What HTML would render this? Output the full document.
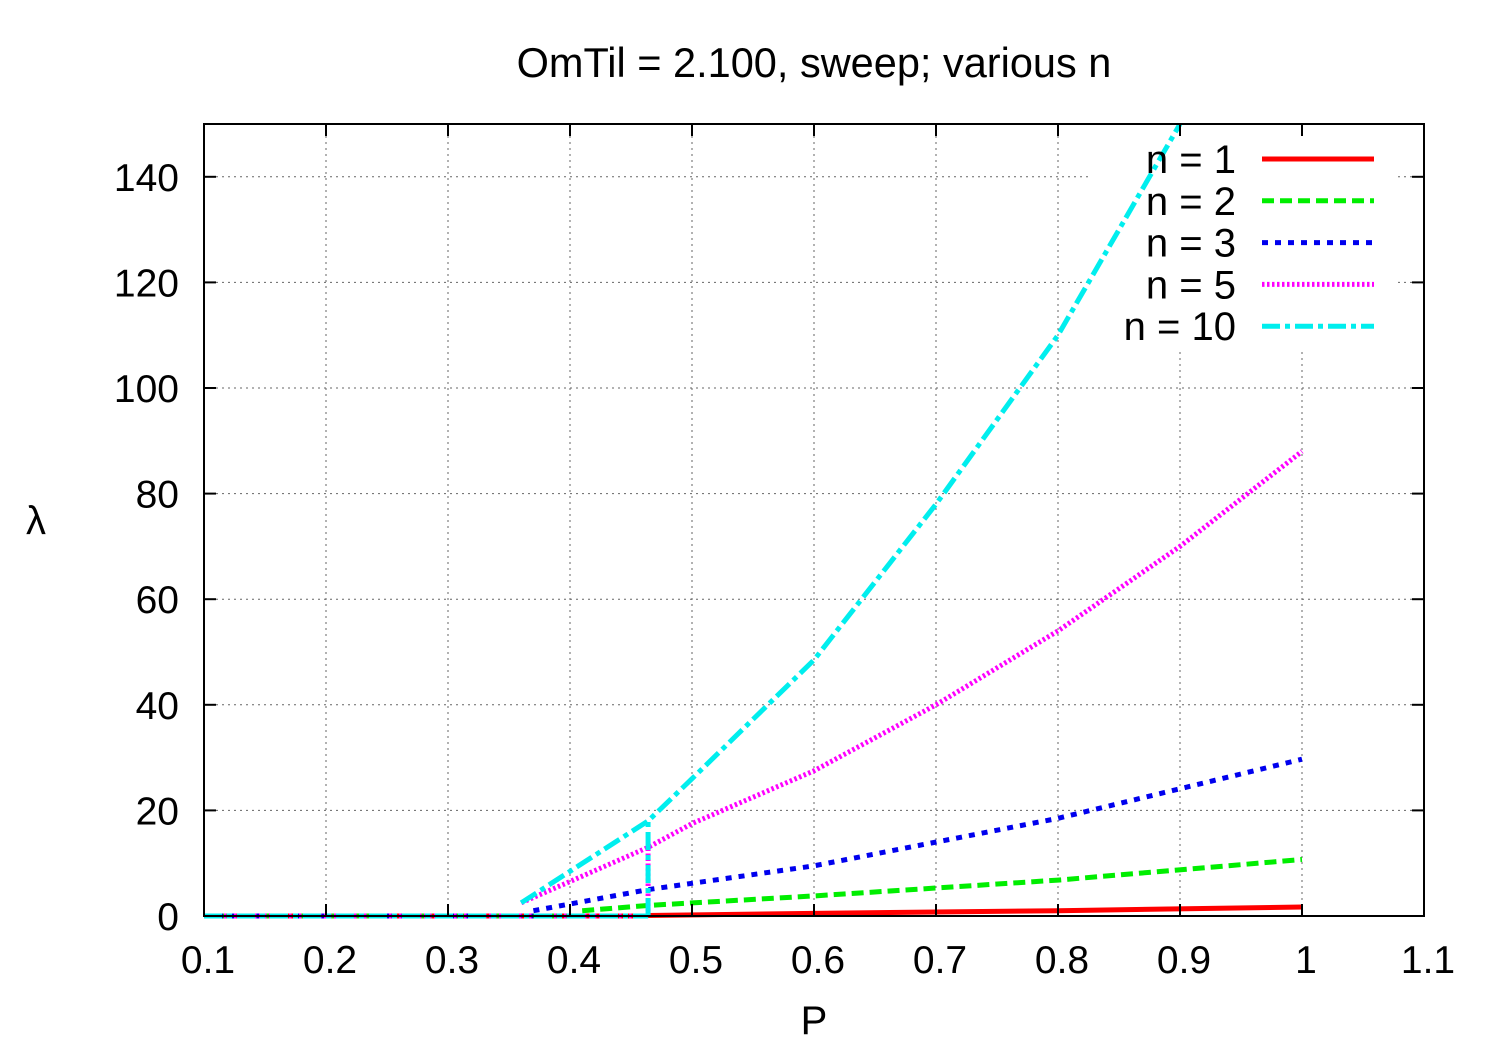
<!DOCTYPE html>
<html><head><meta charset="utf-8"><style>
body{margin:0;background:#fff;}
svg{display:block;font-family:"Liberation Sans",sans-serif;}
</style></head><body>
<svg id="chart" width="1500" height="1050" viewBox="0 0 1500 1050">
<rect width="1500" height="1050" fill="#fff"/>
<text x="814" y="77" font-size="41.5" text-anchor="middle">OmTil = 2.100, sweep; various n</text>
<g id="grid"></g>
<rect x="1088" y="136" width="310" height="212" fill="#fff"/>
<g id="series"></g>
<rect x="204" y="124" width="1220" height="792" fill="none" stroke="#000" stroke-width="2"/>
<g id="ticks"></g>
<g id="legend"></g>
<text x="814" y="1034" font-size="40" text-anchor="middle">P</text>
<text x="36" y="534" font-size="40" text-anchor="middle">λ</text>
</svg>
<script>
const xTicks=[0.1,0.2,0.3,0.4,0.5,0.6,0.7,0.8,0.9,1,1.1];
const xTickLabels=["0.1","0.2","0.3","0.4","0.5","0.6","0.7","0.8","0.9","1","1.1"];
const yTicks=[0,20,40,60,80,100,120,140];
const seriesNames=["n = 1","n = 2","n = 3","n = 5","n = 10"];
// zero-branch end (P) and vertical jump value at that P for each series
const zeroEnd=[0.464,0.41,0.37,0.464,0.464];
const jumpTop=[0,0,0,13,18];
const p1=[0.464,0.6,0.8,1.0];
const v1=[0.1,0.5,1.0,1.7];
const p2=[0.41,0.464,0.6,0.8,1.0];
const v2=[1,2,3.8,6.8,10.7];
const p3=[0.37,0.464,0.6,0.8,1.0];
const v3=[1,5,9.5,18.5,29.7];
const p5=[0.36,0.464,0.5,0.6,0.7,0.8,0.9,1.0];
const v5=[2.5,13,17.5,27.5,40,54,70,88];
const p10=[0.36,0.464,0.5,0.6,0.7,0.8,0.85,0.9];
const v10=[2.5,18,26,48.5,78,110,130,150];
const ns="http://www.w3.org/2000/svg";
const X=p=>204+(p-0.1)*1220;
const Y=v=>916-v*(792/150);
const grid=document.getElementById('grid'),ticks=document.getElementById('ticks'),ser=document.getElementById('series'),leg=document.getElementById('legend');
function mk(tag,attrs,parent){const e=document.createElementNS(ns,tag);for(const k in attrs)e.setAttribute(k,attrs[k]);parent.appendChild(e);return e;}
xTicks.forEach((t,i)=>{
 const x=X(t);
 if(i>0&&i<xTicks.length-1){const g=mk('line',{x1:x,x2:x,y1:124,y2:916,stroke:'#666','stroke-width':1,'stroke-dasharray':'2,4'},grid);
 
 }
 mk('line',{x1:x,x2:x,y1:916,y2:904,stroke:'#000','stroke-width':2},ticks);
 mk('line',{x1:x,x2:x,y1:124,y2:136,stroke:'#000','stroke-width':2},ticks);
 const tx=mk('text',{x:x+4,y:973,'font-size':39,'text-anchor':'middle'},ticks);
 tx.textContent=xTickLabels[i];
 
 
});
yTicks.forEach(t=>{
 const y=Y(t);
 if(t>0){const g=mk('line',{x1:204,x2:1424,y1:y,y2:y,stroke:'#666','stroke-width':1,'stroke-dasharray':'2,4'},grid);
 
 }
 mk('line',{x1:204,x2:216,y1:y,y2:y,stroke:'#000','stroke-width':2},ticks);
 mk('line',{x1:1412,x2:1424,y1:y,y2:y,stroke:'#000','stroke-width':2},ticks);
 const tx=mk('text',{x:179,y:y+14,'font-size':39,'text-anchor':'end'},ticks);
 tx.textContent=String(t);
 
 
});
const styles=[
 {c:'#ff0000',d:'none'},
 {c:'#00ee00',d:'12,6'},
 {c:'#0000ee',d:'6,7'},
 {c:'#ff00ff',d:'2.5,2.5'},
 {c:'#00eeee',d:'18,5,5,5'}];
const data=[[p1,v1],[p2,v2],[p3,v3],[p5,v5],[p10,v10]];
const sNames=['series-n1','series-n2','series-n3','series-n5','series-n10'];
data.forEach((d,i)=>{
 const st={fill:'none',stroke:styles[i].c,'stroke-width':5,'stroke-dasharray':styles[i].d,'stroke-linejoin':'round'};
 const z=mk('polyline',Object.assign({points:X(0.1)+','+Y(0)+' '+X(zeroEnd[i])+','+Y(0)},st),ser);
 
 
 if(jumpTop[i]>0){
  const j=mk('polyline',Object.assign({points:X(zeroEnd[i])+','+Y(0)+' '+X(zeroEnd[i])+','+Y(jumpTop[i])},st),ser);
  
  
 }
 const pts=d[0].map((p,j)=>X(p)+','+Y(d[1][j])).join(' ');
 const pl=mk('polyline',Object.assign({points:pts},st),ser);
 
 
 const ly=159+i*41.8;
 const t=mk('text',{x:1236,y:ly+14,'font-size':40,'text-anchor':'end'},leg);
 t.textContent=seriesNames[i];
 
 
 const l=mk('line',{x1:1262,x2:1374,y1:ly,y2:ly,stroke:styles[i].c,'stroke-width':5,'stroke-dasharray':styles[i].d},leg);
 
 
});
</script>
</body></html>
